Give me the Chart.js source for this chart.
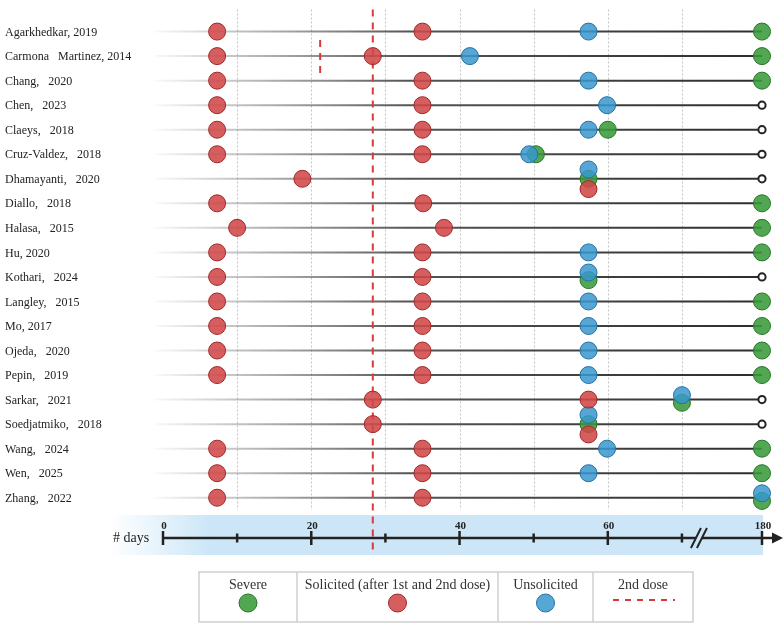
<!DOCTYPE html>
<html>
<head>
<meta charset="utf-8">
<script src="https://cdn.jsdelivr.net/npm/chart.js@4.4.1/dist/chart.umd.min.js"></script>
<style>
  html, body { margin: 0; padding: 0; background: #fff; }
  #wrap { width: 784px; height: 628px; }
</style>
</head>
<body>
<div id="wrap"><canvas id="grafico" width="784" height="628"></canvas></div>
<script>
// studies, top to bottom
const studies = [
    "Agarkhedkar, 2019",
    "Carmona   Martinez, 2014",
    "Chang,   2020",
    "Chen,   2023",
    "Claeys,   2018",
    "Cruz-Valdez,   2018",
    "Dhamayanti,   2020",
    "Diallo,   2018",
    "Halasa,   2015",
    "Hu, 2020",
    "Kothari,   2024",
    "Langley,   2015",
    "Mo, 2017",
    "Ojeda,   2020",
    "Pepin,   2019",
    "Sarkar,   2021",
    "Soedjatmiko,   2018",
    "Wang,   2024",
    "Wen,   2025",
    "Zhang,   2022"
];

// days of assessment, one list per study
const solicitedDays = [
    [7.3, 35], [7.3, 28.3], [7.3, 35], [7.3, 35], [7.3, 35],
    [7.3, 35], [18.8, 57.4], [7.3, 35.1], [10, 37.9], [7.3, 35],
    [7.3, 35], [7.3, 35], [7.3, 35], [7.3, 35], [7.3, 35],
    [28.3, 57.4], [28.3, 57.4], [7.3, 35], [7.3, 35], [7.3, 35]
];
const unsolicitedDays = [
    [57.4], [41.4], [57.4], [59.9], [57.4],
    [49.4], [57.4], [], [], [57.4],
    [57.4], [57.4], [57.4], [57.4], [57.4],
    [70], [57.4], [59.9], [57.4], [180]
];
const severeDays = [
    [180], [180], [180], [], [60],
    [50.3], [57.4], [180], [180], [180],
    [57.4], [180], [180], [180], [180],
    [70], [57.4], [180], [180], [180]
];
const followUpDay = 180;
const secondDoseDay = 28.3;
const otherSecondDose = [{ study: 1, day: 21.2 }];

const majorTicks = [0, 20, 40, 60, 180];
const minorTicks = [10, 30, 50, 70];
const gridDays = [10, 20, 30, 40, 50, 60, 70];

// axis break between 70 and 180
const breakStart = 70, breakEnd = 180, breakSpan = 10.8;
function axisPos(d) {
    return d <= breakStart ? d : breakStart + (d - breakStart) * breakSpan / (breakEnd - breakStart);
}

const cores = {
    severe: { fill: "rgba(58,156,58,0.88)", borda: "rgb(38,118,38)" },
    solicited: { fill: "rgba(208,72,72,0.88)", borda: "rgb(158,40,40)" },
    unsolicited: { fill: "rgba(56,152,206,0.85)", borda: "rgb(36,112,162)" }
};

function pontos(lista, tipo) {
    const out = [];
    lista.forEach((dias, i) => {
        dias.forEach(d => {
            const iguais = [solicitedDays[i], unsolicitedDays[i], severeDays[i]]
                .filter(arr => arr.includes(d)).length;
            let desloc = 0;
            if (iguais === 2) desloc = { unsolicited: -0.18, severe: 0.13, solicited: 0.13 }[tipo];
            if (iguais === 3) desloc = { unsolicited: -0.38, severe: 0, solicited: 0.42 }[tipo];
            out.push({ x: axisPos(d), y: i + desloc });
        });
    });
    return out;
}

const fimSeguimento = [];
studies.forEach((s, i) => {
    if (!severeDays[i].includes(followUpDay) && !unsolicitedDays[i].includes(followUpDay)) {
        fimSeguimento.push({ x: axisPos(followUpDay), y: i });
    }
});

const serif = "'Liberation Serif', 'DejaVu Serif', serif";

const desenhoExtra = {
    id: "desenhoExtra",
    beforeDatasetsDraw(chart) {
        const { ctx, chartArea } = chart;
        const x = chart.scales.x, y = chart.scales.y;
        ctx.save();

        // blue band behind the axis
        const bx0 = 110, bx1 = x.getPixelForValue(axisPos(180)) + 1;
        const faixa = ctx.createLinearGradient(bx0, 0, 210, 0);
        faixa.addColorStop(0, "rgba(204,230,248,0)");
        faixa.addColorStop(1, "rgba(204,230,248,1)");
        ctx.fillStyle = faixa;
        ctx.fillRect(bx0, 515, bx1 - bx0, 40);

        // dotted grid
        ctx.strokeStyle = "#c4c4c4";
        ctx.lineWidth = 1;
        ctx.setLineDash([2, 2]);
        gridDays.forEach(d => {
            const px = Math.round(x.getPixelForValue(axisPos(d))) + 0.5;
            ctx.beginPath();
            ctx.moveTo(px, chartArea.top);
            ctx.lineTo(px, chartArea.bottom);
            ctx.stroke();
        });
        ctx.setLineDash([]);

        // study lines
        const x0 = x.getPixelForValue(0) - 8;
        const xf = x.getPixelForValue(axisPos(followUpDay));
        const grad = ctx.createLinearGradient(x0, 0, xf, 0);
        grad.addColorStop(0, "rgba(70,70,70,0.03)");
        grad.addColorStop(0.17, "rgba(70,70,70,0.4)");
        grad.addColorStop(0.42, "rgba(60,60,60,0.88)");
        grad.addColorStop(1, "rgba(45,45,45,1)");
        ctx.strokeStyle = grad;
        ctx.lineWidth = 2;
        studies.forEach((s, i) => {
            const py = y.getPixelForValue(i);
            ctx.beginPath();
            ctx.moveTo(x0, py);
            ctx.lineTo(xf, py);
            ctx.stroke();
        });

        // 2nd dose lines
        ctx.strokeStyle = "#d83a3a";
        ctx.lineWidth = 2;
        ctx.setLineDash([7, 6]);
        const px2 = x.getPixelForValue(axisPos(secondDoseDay));
        ctx.beginPath();
        ctx.moveTo(px2, chartArea.top);
        ctx.lineTo(px2, 553);
        ctx.stroke();
        otherSecondDose.forEach(o => {
            const px = x.getPixelForValue(axisPos(o.day));
            const py = y.getPixelForValue(o.study);
            ctx.beginPath();
            ctx.moveTo(px, py - 16);
            ctx.lineTo(px, py + 17);
            ctx.stroke();
        });
        ctx.setLineDash([]);
        ctx.restore();
    },
    afterDatasetsDraw(chart) {
        const { ctx } = chart;
        const x = chart.scales.x, y = chart.scales.y;
        ctx.save();

        // study labels
        ctx.fillStyle = "#222";
        ctx.font = "12px " + serif;
        ctx.textAlign = "left";
        ctx.textBaseline = "middle";
        studies.forEach((s, i) => ctx.fillText(s, 5, y.getPixelForValue(i) + 1));

        // time axis
        const ay = 538;
        const a0 = x.getPixelForValue(0);
        const a1 = x.getPixelForValue(axisPos(180));
        ctx.strokeStyle = "#222";
        ctx.fillStyle = "#222";
        ctx.lineWidth = 2.5;
        ctx.beginPath();
        ctx.moveTo(a0, ay);
        ctx.lineTo(a1 + 12, ay);
        ctx.stroke();
        ctx.beginPath();
        ctx.moveTo(a1 + 21, ay);
        ctx.lineTo(a1 + 10, ay - 5.5);
        ctx.lineTo(a1 + 10, ay + 5.5);
        ctx.closePath();
        ctx.fill();

        minorTicks.forEach(d => {
            const px = x.getPixelForValue(axisPos(d));
            ctx.beginPath();
            ctx.moveTo(px, ay - 4.5);
            ctx.lineTo(px, ay + 4.5);
            ctx.stroke();
        });
        ctx.font = "bold 11px " + serif;
        ctx.textAlign = "center";
        ctx.textBaseline = "alphabetic";
        majorTicks.forEach(d => {
            const px = x.getPixelForValue(axisPos(d));
            ctx.beginPath();
            ctx.moveTo(px, ay - 7);
            ctx.lineTo(px, ay + 7);
            ctx.stroke();
            ctx.fillText(String(d), px + 1, 529);
        });

        // axis break, just after the last regular tick
        const bxp = x.getPixelForValue(axisPos(breakStart)) + 17;
        ctx.fillStyle = "rgb(204,230,248)";
        ctx.fillRect(bxp - 3, ay - 3, 6, 6);
        ctx.lineWidth = 2;
        [-3, 3].forEach(off => {
            ctx.beginPath();
            ctx.moveTo(bxp + off - 5, ay + 10);
            ctx.lineTo(bxp + off + 5, ay - 10);
            ctx.stroke();
        });

        ctx.fillStyle = "#222";
        ctx.font = "14px " + serif;
        ctx.textAlign = "left";
        ctx.textBaseline = "middle";
        ctx.fillText("# days", 113, ay);

        // legend table
        const cel = [199, 297, 498, 593, 693];
        const lt = 572, lb = 622;
        ctx.strokeStyle = "#cfcfcf";
        ctx.lineWidth = 1.5;
        ctx.strokeRect(cel[0], lt, cel[4] - cel[0], lb - lt);
        cel.slice(1, 4).forEach(cx => {
            ctx.beginPath();
            ctx.moveTo(cx, lt);
            ctx.lineTo(cx, lb);
            ctx.stroke();
        });
        const itens = [
            { label: chart.data.datasets[2].label, tipo: "severe" },
            { label: chart.data.datasets[0].label, tipo: "solicited" },
            { label: chart.data.datasets[1].label, tipo: "unsolicited" },
            { label: "2nd dose", tipo: "dose" }
        ];
        ctx.font = "14px " + serif;
        ctx.textAlign = "center";
        itens.forEach((it, k) => {
            const cx = (cel[k] + cel[k + 1]) / 2;
            ctx.fillStyle = "#333";
            ctx.fillText(it.label, cx, 585);
            if (it.tipo === "dose") {
                ctx.strokeStyle = "#d83a3a";
                ctx.lineWidth = 2;
                ctx.setLineDash([6, 6]);
                ctx.beginPath();
                ctx.moveTo(cx - 30, 600);
                ctx.lineTo(cx + 32, 600);
                ctx.stroke();
                ctx.setLineDash([]);
            } else {
                ctx.fillStyle = cores[it.tipo].fill;
                ctx.strokeStyle = cores[it.tipo].borda;
                ctx.lineWidth = 1;
                ctx.beginPath();
                ctx.arc(cx, 603, 9, 0, Math.PI * 2);
                ctx.fill();
                ctx.stroke();
            }
        });
        ctx.restore();
    }
};

const ponto = (tipo) => ({
    pointRadius: 8.5,
    pointBackgroundColor: cores[tipo].fill,
    pointBorderColor: cores[tipo].borda,
    pointBorderWidth: 1,
    pointHoverRadius: 8.5,
    clip: false
});

new Chart(document.getElementById("grafico"), {
    type: "scatter",
    data: {
        datasets: [
            { label: "Solicited (after 1st and 2nd dose)", data: pontos(solicitedDays, "solicited"), ...ponto("solicited") },
            { label: "Unsolicited", data: pontos(unsolicitedDays, "unsolicited"), ...ponto("unsolicited") },
            { label: "Severe", data: pontos(severeDays, "severe"), ...ponto("severe") },
            {
                label: "End of follow-up", data: fimSeguimento,
                pointRadius: 3.6, pointBackgroundColor: "#fff", pointBorderColor: "#222",
                pointBorderWidth: 2, clip: false
            }
        ]
    },
    options: {
        responsive: false,
        animation: false,
        events: [],
        layout: { padding: { left: 163, right: 22, top: 5, bottom: 118 } },
        scales: {
            x: { type: "linear", min: 0, max: axisPos(180), display: false },
            y: { type: "linear", min: -0.9, max: 19.5, reverse: true, display: false }
        },
        plugins: {
            legend: { display: false },
            tooltip: { enabled: false }
        }
    },
    plugins: [desenhoExtra]
});
</script>
</body>
</html>
